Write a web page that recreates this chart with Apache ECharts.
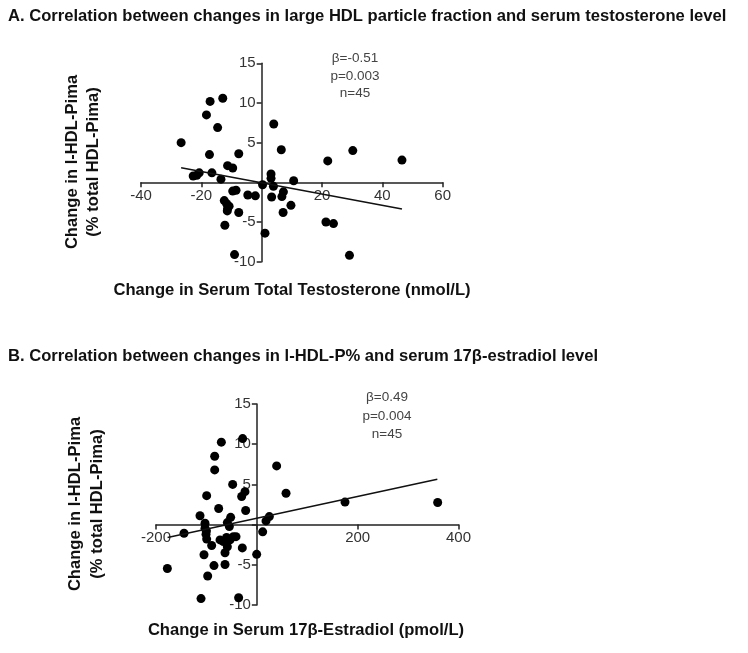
<!DOCTYPE html>
<html><head><meta charset="utf-8">
<script src="https://cdn.jsdelivr.net/npm/echarts@6/dist/echarts.min.js"></script>
<style>html,body{margin:0;padding:0;background:#fff}#c{width:748px;height:653px}</style>
</head><body><div id="c"></div>
<script>
// Panel A: change in serum total testosterone (nmol/L) vs change in l-HDL-Pima (%)
const testoX = [-26.7,-17.1,-12.9,-18.3,-14.6,-17.3,-7.6,-11.3,-9.6,-20.7,-22.7,-16.5,-13.5,4.0,6.5,21.9,30.2,46.5,3.1,3.1,10.6,0.3,3.9,7.2,6.7,3.3,9.7,7.1,-4.6,-2.1,-8.5,-9.6,-12.4,-11.6,-11.3,-11.4,-7.6,-12.2,21.3,23.8,1.1,-9.0,29.1,-21.5,-10.8];
const testoY = [5.0,10.2,10.6,8.5,6.9,3.5,3.6,2.1,1.8,1.2,0.8,1.2,0.4,7.35,4.1,2.7,4.0,2.8,1.05,0.5,0.2,-0.3,-0.5,-1.2,-1.8,-1.85,-2.9,-3.8,-1.6,-1.7,-1.0,-1.1,-2.3,-2.7,-3.3,-3.6,-3.8,-5.4,-5.0,-5.2,-6.4,-9.1,-9.2,0.9,-3.0];
const testoFitX = [-26.7, 46.5];
const testoFitY = [1.85, -3.36];
const testoXTicks = {min:-40, max:60, interval:20};
const hdlYTicks = {min:-10, max:15, interval:5};

// Panel B: change in serum 17β-estradiol (pmol/L) vs change in l-HDL-Pima (%)
const e2X = [-177.5,-144.4,-112.7,-99.5,-83.6,-83.6,-70.4,-28.1,-75.7,-47.9,-30.1,-23.5,-22.1,-51.9,-58.5,-102.8,-102.8,-100.8,-99.5,-89.6,-104.8,-85,-97.5,-110.7,-36.1,-63.1,-63.1,-73,-66.4,-53.2,-46.6,-41.3,-58.5,-28.8,-0.3,11.6,18.2,24.8,39.3,57.9,174.9,358.7,-54.5,-100,-60];
const e2Y = [-5.46,-1.08,1.1,3.6,8.5,6.8,10.25,10.7,2.0,5.0,3.5,4.1,1.75,0.9,0.25,0.17,-0.46,-1.2,-1.8,-2.6,-3.75,-5.1,-6.4,-9.2,-9.1,-4.96,-3.5,-1.9,-2.1,-1.9,-1.5,-1.5,-2.75,-2.9,-3.7,-0.9,0.46,1.0,7.3,3.9,2.8,2.75,-0.25,-0.8,-1.6];
const e2FitX = [-177, 358];
const e2FitY = [-1.6, 5.65];
const e2XTicks = {min:-200, max:400, interval:200};

const titleA = 'A. Correlation between changes in large HDL particle fraction and serum testosterone level';
const titleB = 'B. Correlation between changes in l-HDL-P% and serum 17β-estradiol level';
const xNameA = 'Change in Serum Total Testosterone (nmol/L)';
const xNameB = 'Change in Serum 17β-Estradiol (pmol/L)';
const yName = 'Change in l-HDL-Pima\n(% total HDL-Pima)';
const statsA = ['β=-0.51','p=0.003','n=45'];
const statsB = ['β=0.49','p=0.004','n=45'];

const pts = (xs, ys) => xs.map((x,i)=>[x, ys[i]]);
const FONT = '"Liberation Sans", Arial, sans-serif';
const grids = [
  {left:141, top:63.3, width:301.7, height:198.4},
  {left:156, top:404, width:302.5, height:201}
];
function axisCommon(){
  return {
    axisLine:{onZero:false, lineStyle:{color:'#222', width:1.5}},
    axisTick:{show:true, inside:false, length:5, lineStyle:{color:'#222', width:1.5}},
    axisLabel:{color:'#333', fontSize:15, fontFamily:FONT, margin:6, formatter:v=> v===0 ? '' : String(v)},
    splitLine:{show:false}
  };
}
// axes are moved so that they cross at the data origin (0,0)
function xAx(idx, t, yt){
  const g = grids[idx];
  const off = -g.height * (0 - yt.min) / (yt.max - yt.min);
  return Object.assign({type:'value', gridIndex:idx, min:t.min, max:t.max, interval:t.interval, position:'bottom', offset:off}, axisCommon());
}
function yAx(idx, t, xt){
  const g = grids[idx];
  const off = -g.width * (0 - xt.min) / (xt.max - xt.min);
  return Object.assign({type:'value', gridIndex:idx, min:t.min, max:t.max, interval:t.interval, position:'left', offset:off}, axisCommon());
}

const chart = echarts.init(document.getElementById('c'), null, {renderer:'canvas'});
const BIG = 'bold 16.6px ' + FONT;
const txt = (x,y,text,opt) => ({type:'text', x, y, style:Object.assign({text, fill:'#111', font:BIG, textAlign:'left', textVerticalAlign:'middle'}, opt||{})});
const statStyle = {font:'13.5px '+FONT, fill:'#444', textAlign:'center'};
chart.setOption({
  animation:false,
  grid:grids,
  xAxis:[xAx(0,testoXTicks,hdlYTicks), xAx(1,e2XTicks,hdlYTicks)],
  yAxis:[yAx(0,hdlYTicks,testoXTicks), yAx(1,hdlYTicks,e2XTicks)],
  series:[
    {type:'scatter', xAxisIndex:0, yAxisIndex:0, data:pts(testoX,testoY), symbolSize:9, itemStyle:{color:'#000', opacity:1}},
    {type:'line', xAxisIndex:0, yAxisIndex:0, data:pts(testoFitX,testoFitY), symbol:'none', lineStyle:{color:'#111', width:1.5}},
    {type:'scatter', xAxisIndex:1, yAxisIndex:1, data:pts(e2X,e2Y), symbolSize:9, itemStyle:{color:'#000', opacity:1}},
    {type:'line', xAxisIndex:1, yAxisIndex:1, data:pts(e2FitX,e2FitY), symbol:'none', lineStyle:{color:'#111', width:1.5}}
  ],
  graphic:[
    txt(8, 16, titleA),
    txt(8, 356, titleB),
    txt(292, 290, xNameA, {textAlign:'center'}),
    txt(306, 630, xNameB, {textAlign:'center'}),
    {type:'text', x:83, y:162, rotation:Math.PI/2, style:{text:yName, fill:'#111', font:BIG, textAlign:'center', textVerticalAlign:'middle', lineHeight:21}},
    {type:'text', x:86, y:504, rotation:Math.PI/2, style:{text:yName, fill:'#111', font:BIG, textAlign:'center', textVerticalAlign:'middle', lineHeight:22}},
    txt(355, 58, statsA[0], statStyle),
    txt(355, 76, statsA[1], statStyle),
    txt(355, 93, statsA[2], statStyle),
    txt(387, 397, statsB[0], statStyle),
    txt(387, 416, statsB[1], statStyle),
    txt(387, 434, statsB[2], statStyle)
  ]
});
</script></body></html>
